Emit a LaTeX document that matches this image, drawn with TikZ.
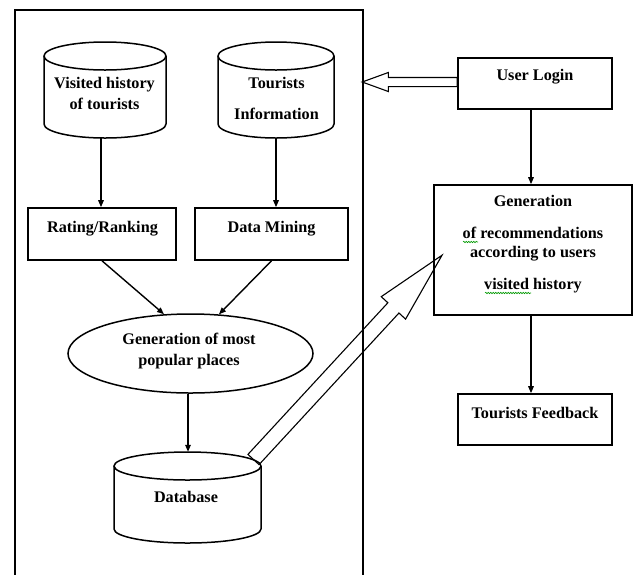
\documentclass[tikz,border=0pt]{standalone}
\usepackage{fontspec}
\setmainfont{Liberation Serif}
\usetikzlibrary{shapes.geometric,shapes.arrows,arrows.meta,calc,decorations.pathmorphing}
\newcommand\drawcylinder[5]{%
  \draw[cylline] ({#1-#4},{#2+#5}) -- ({#1-#4},{#3-#5})
     arc[start angle=180,end angle=0,x radius=#4,y radius=#5] -- ({#1+#4},{#2+#5});
  \draw[cylline] (#1,{#2+#5}) ellipse[x radius=#4, y radius=#5];}
\begin{document}
\begin{tikzpicture}[x=1pt,y=-1pt,
  txt/.style={font=\fontsize{16.2}{20}\selectfont\bfseries, align=center, inner sep=0pt},
  boxnode/.style={draw, line width=1.6pt, inner sep=0pt},
  cylnode/.style={inner sep=0pt},
  cylline/.style={line width=1.5pt},
  arr/.style={line width=1.4pt, -{Triangle[length=7pt,width=5.5pt]}},
  hollow/.style={single arrow, draw, line width=1.1pt, inner xsep=0pt, outer sep=0pt, single arrow head indent=0pt},
  squiggle/.style={draw=green!60!black, line width=0.6pt, decorate,
     decoration={snake, amplitude=0.7pt, segment length=2.5pt}}
]
\useasboundingbox (0,0) rectangle (634,574);
% outer frame
\draw[line width=1.6pt] (15,577) -- (15,10) -- (363,10) -- (363,577);

% cylinders
\node[cylnode, minimum width=122pt, minimum height=96pt] (vhcyl) at (105,90) {};
\drawcylinder{105}{42}{138}{61}{14}
\node[txt] (vhT) at (104.5,93) {Visited history\\[1pt]of tourists};

\node[cylnode, minimum width=116pt, minimum height=96pt] (ticyl) at (276,90) {};
\drawcylinder{276}{42}{138}{58}{14}
\node[txt] (tiT) at (276.5,98.5) {Tourists\\[11pt]Information};

% boxes
\node[boxnode, minimum width=148pt, minimum height=52pt] (rate) at (102,234) {};
\node[txt] (rateT) at (102.5,229) {Rating/Ranking};
\node[boxnode, minimum width=153pt, minimum height=52pt] (dm) at (271.5,234) {};
\node[txt] (dmT) at (271.5,229) {Data Mining};

% ellipse
\node[ellipse, draw, line width=1.5pt, minimum width=245pt, minimum height=79pt, inner sep=0pt] (pop) at (190.5,353.5) {};
\node[txt] (popT) at (189,351.5) {Generation of most\\[1pt]popular places};

% database
\node[cylnode, minimum width=147pt, minimum height=91pt] (db) at (187.5,497.5) {};
\drawcylinder{187.5}{452}{543}{73.5}{14}
\node[txt] (dbT) at (186,497) {Database};

% right column
\node[boxnode, minimum width=154pt, minimum height=51pt] (login) at (535,83.5) {};
\node[txt] (loginT) at (535,77) {User Login};
\node[boxnode, minimum width=198pt, minimum height=130pt] (gen) at (533,250) {};
\node[txt] (genT) at (533,244.5) {Generation\\[12pt]of recommendations\\[-1pt]according to users\\[12pt]visited history};
\node[boxnode, minimum width=154pt, minimum height=51pt] (fb) at (535,419.5) {};
\node[txt] (fbT) at (535,413) {Tourists Feedback};

% connectors
\draw[arr] ([xshift=-4pt]vhcyl.south) -- ([xshift=-4pt]vhcyl.south |- rate.north);
\draw[arr] (ticyl.south) -- (ticyl.south |- dm.north);
\draw[arr] (rate.south) -- (pop.124.8);
\draw[arr] (dm.south) -- (pop.54.3);
\draw[arr] ([xshift=-2.5pt]pop.south) -- ([xshift=-2.5pt]pop.south |- db.north);
\draw[arr] ([xshift=-4pt]login.south) -- ([xshift=-4pt]login.south |- gen.north);
\draw[arr] ([xshift=-2pt]gen.south) -- ([xshift=-2pt]gen.south |- fb.north);

% hollow arrows
\coordinate (lgtail) at ([yshift=1.5pt]login.west);
\node[hollow, inner ysep=4pt, minimum height=95pt, single arrow head extend=5pt,
      single arrow tip angle=40, rotate=180, anchor=tail] (lgarrow) at (lgtail) {};
\coordinate (dbtail) at (253.5,459.5);
\node[hollow, inner ysep=7pt, minimum height=278pt, single arrow head extend=9pt,
      single arrow tip angle=26, rotate=47.3, anchor=tail] (bigarrow) at (dbtail) {};

% spell-check underlines
\draw[squiggle] (463,242) -- (478,242);
\draw[squiggle] (485,293) -- (531,293);
\end{tikzpicture}
\end{document}
